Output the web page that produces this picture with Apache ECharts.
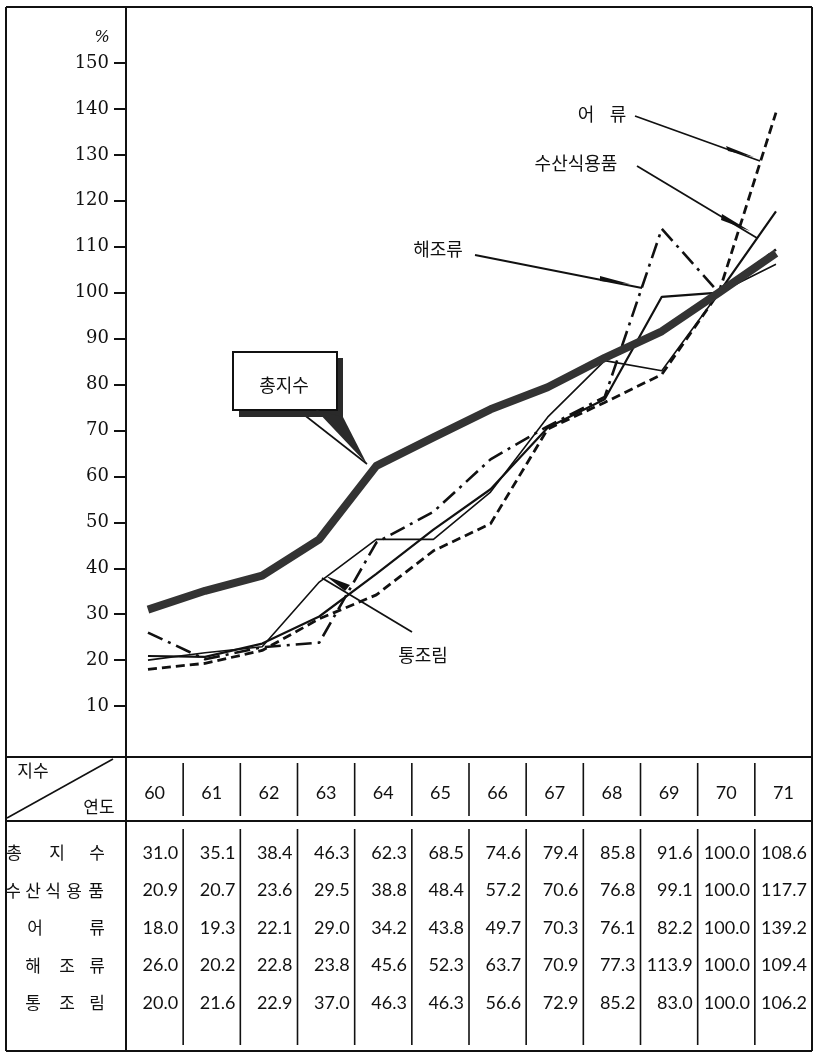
<!DOCTYPE html>
<html><head><meta charset="utf-8">
<script src="https://cdn.jsdelivr.net/npm/echarts@6/dist/echarts.min.js"></script>
<style>
html,body{margin:0;padding:0;background:#fff;}
#chart{position:absolute;left:0;top:0;width:820px;height:1061px;}
</style></head><body>
<div id="chart"></div>
<script>
// ---------- data ----------
const years = ['60','61','62','63','64','65','66','67','68','69','70','71'];
const totalIndex  = [31.0,35.1,38.4,46.3,62.3,68.5,74.6,79.4,85.8,91.6,100.0,108.6];
const fisheryFood = [20.9,20.7,23.6,29.5,38.8,48.4,57.2,70.6,76.8,99.1,100.0,117.7];
const fish        = [18.0,19.3,22.1,29.0,34.2,43.8,49.7,70.3,76.1,82.2,100.0,139.2];
const seaweed     = [26.0,20.2,22.8,23.8,45.6,52.3,63.7,70.9,77.3,113.9,100.0,109.4];
const canned      = [20.0,21.6,22.9,37.0,46.3,46.3,56.6,72.9,85.2,83.0,100.0,106.2];
const seriesNames = ['총지수','수산식용품','어류','해조류','통조림'];
const yTicks = [10,20,30,40,50,60,70,80,90,100,110,120,130,140,150];
const headerLabels = ['지수','연도'];
const rowChars = [['총','지','수'],['수','산','식','용','품'],['어','류'],['해','조','류'],['통','조','림']];

// ---------- layout helpers ----------
const INK = '#111';
const G = [];
function line(x1,y1,x2,y2,w){G.push({type:'line',silent:true,z:50,shape:{x1,y1,x2,y2},style:{stroke:INK,lineWidth:w||2}});}
function text(t,x,y,font,align){G.push({type:'text',silent:true,z:60,x:x,y:y,style:{text:t,fill:INK,font:font,align:align||'center',verticalAlign:'middle'}});}
function poly(pts,fill,stroke){G.push({type:'polygon',silent:true,z:55,shape:{points:pts},style:{fill:fill,stroke:stroke||null,lineWidth:stroke?2:0}});}

// frame
const L=6,R=812,T=7,B=1051,AX=126;
line(L,T,R,T,2); line(L,B,R,B,2); line(L,T,L,B,2); line(R,T,R,B,2);
line(AX,T,AX,B,2);
// table horizontal lines
const hTop=757, hBot=821;
line(L,hTop,R,hTop,2); line(L,hBot,R,hBot,2);
// header diagonal
line(L+1,hBot-3,113,hTop+2,1.6);
const KR='17px "Noto Sans CJK KR"';
text(headerLabels[0],33,771,KR);
text(headerLabels[1],99,807,KR);

// columns
const nCol = years.length, colW = (R-AX)/nCol;
const NUM = '18px Lato';
const rowY = [853,890.5,928,965.5,1003];
const rowCharX = [[14,57,97],[13,33,53,74,96],[35,97],[33,67,97],[33,67,97]];
const tableRows = [totalIndex,fisheryFood,fish,seaweed,canned];
for(let i=0;i<nCol;i++){
  const x0 = AX + i*colW, x1 = x0+colW;
  if(i<nCol-1){ line(x1,763,x1,816,1.6); line(x1,829,x1,1045,1.6); }
  text(years[i], (x0+x1)/2, 793, NUM);
  tableRows.forEach((arr,r)=>{ text(arr[i].toFixed(1), x1-5, rowY[r], NUM, 'right'); });
}
rowChars.forEach((chars,r)=>chars.forEach((c,k)=>text(c,rowCharX[r][k],rowY[r],KR)));

// y-axis unit
G.push({type:'text',silent:true,z:60,x:102,y:38,style:{text:'%',fill:INK,font:'italic 16px "DejaVu Serif"',align:'center',verticalAlign:'middle'}});

// annotations
const AN='18px "Noto Sans CJK KR"';
text('어',586,114,AN); text('류',618,114,AN);
line(635,116,760,161,1.8); poly([[726,146],[754,157],[728,151]],INK);
text('수산식용품',576,163,AN);
line(637,166,757,238,1.8); poly([[722,214],[750,231],[721,220]],INK);
text('해조류',438,249,AN);
line(475,255,642,288,1.8); poly([[600,276],[630,284],[600,281]],INK);
text('통조림',423,655,AN);
line(412,632,322,578,1.8); poly([[326,576],[350,585],[345,591]],INK);
// 총지수 callout box
G.push({type:'rect',silent:true,z:52,shape:{x:239,y:358,width:104,height:59},style:{fill:'#2a2a2a'}});
poly([[316,410],[343,417],[367,464]],'#2a2a2a');
G.push({type:'rect',silent:true,z:53,shape:{x:233,y:352,width:104,height:58},style:{fill:'#fff',stroke:INK,lineWidth:2}});
line(298,410,367,464,1.6);
text('총지수',284,385,AN);

// ---------- chart ----------
const mk = arr => years.map((y,i)=>[Number(y),arr[i]]);
const chart = echarts.init(document.getElementById('chart'),null,{renderer:'canvas'});
chart.setOption({
  animation:false,
  backgroundColor:'#fff',
  grid:{left:AX,right:820-R,top:63,bottom:1061-752},
  xAxis:{type:'value',min:59.615,max:71.631,show:false},
  yAxis:{type:'value',min:0,max:150,interval:10,
    axisLine:{show:true,lineStyle:{color:INK,width:2}},
    axisTick:{show:true,length:12,customValues:yTicks,lineStyle:{color:INK,width:2}},
    axisLabel:{customValues:yTicks,margin:17,color:INK,fontFamily:'DejaVu Serif',fontSize:18},
    splitLine:{show:false}},
  series:[
    {type:'line',name:seriesNames[0],data:mk(totalIndex),symbol:'none',z:5,lineStyle:{color:'#333',width:8,cap:'butt',join:'round'}},
    {type:'line',name:seriesNames[1],data:mk(fisheryFood),symbol:'none',z:4,lineStyle:{color:INK,width:2.2}},
    {type:'line',name:seriesNames[2],data:mk(fish),symbol:'none',z:4,lineStyle:{color:INK,width:2.8,type:[9,5]}},
    {type:'line',name:seriesNames[3],data:mk(seaweed),symbol:'none',z:4,lineStyle:{color:INK,width:2.6,type:[16,6,3,6]}},
    {type:'line',name:seriesNames[4],data:mk(canned),symbol:'none',z:4,lineStyle:{color:INK,width:1.6}}
  ],
  graphic:G
});
</script>
</body></html>
